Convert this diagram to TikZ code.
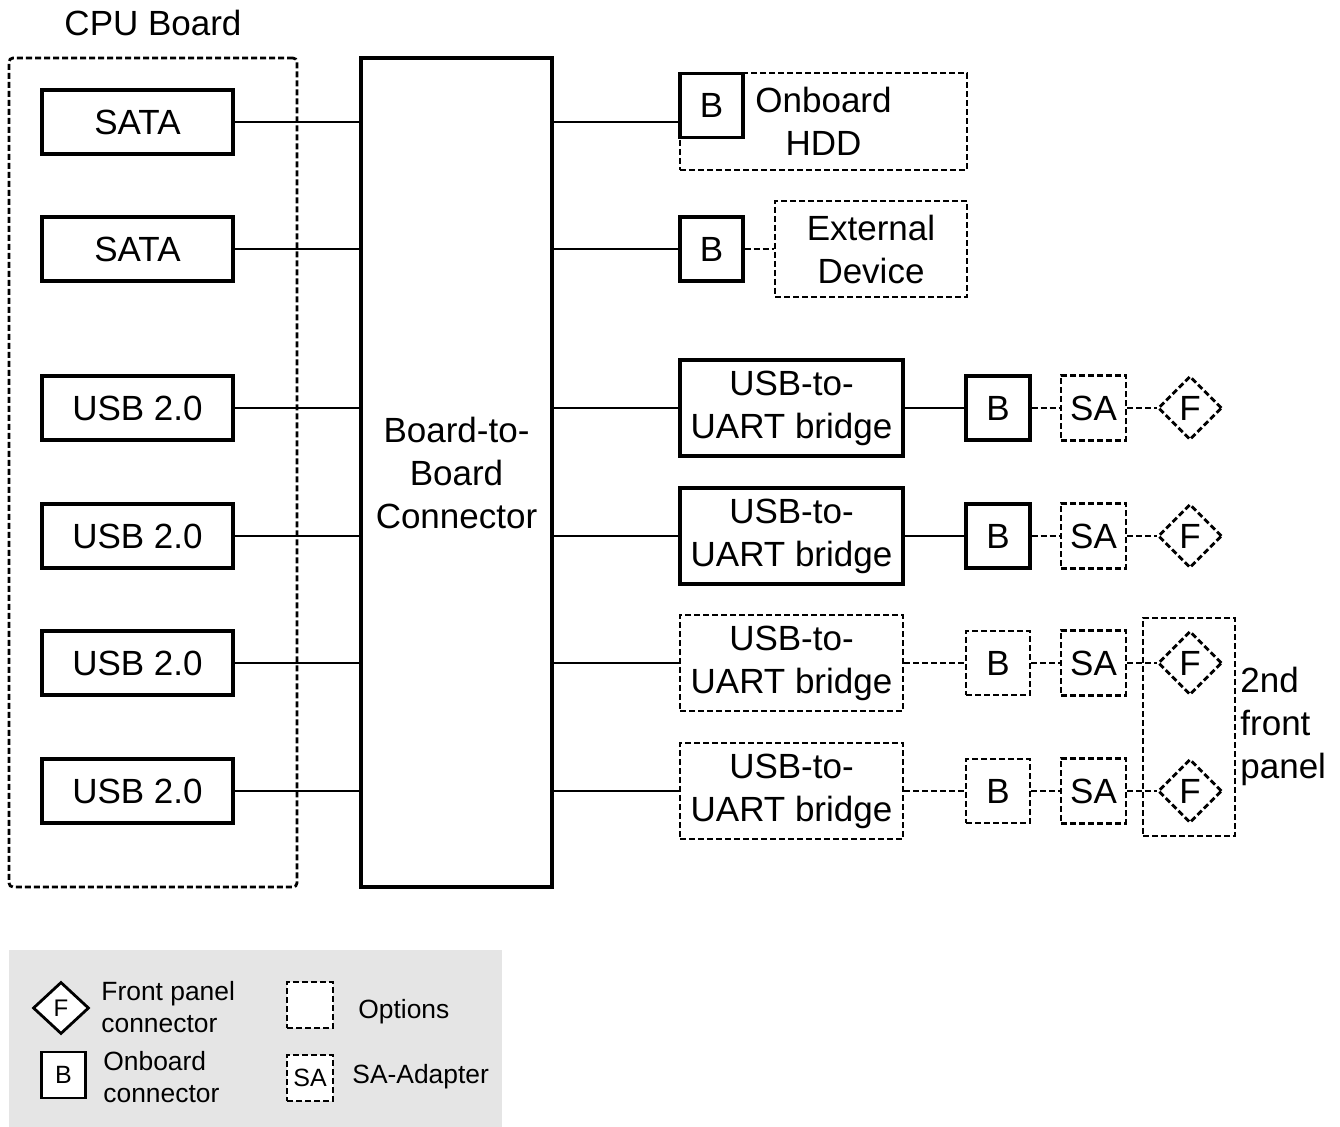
\documentclass[tikz,border=0pt]{standalone}
\usepackage{fontspec}
\setmainfont{Liberation Sans}
\usetikzlibrary{shapes.geometric}

\begin{document}
\begin{tikzpicture}[x=0.5pt,y=-0.5pt,
  blk/.style={draw,line width=1.6pt,inner sep=0pt,align=center,font=\fontsize{17.5}{21.5}\selectfont},
  opt/.style={blk,line width=1.4pt,dash pattern=on 3pt off 1.5pt},
  fcon/.style={opt,diamond,minimum width=32pt,minimum height=32pt},
  wire/.style={line width=1.4pt},
  owire/.style={wire,dash pattern=on 3pt off 1.5pt},
  leg/.style={font=\fontsize{13.2}{16}\selectfont,align=left,anchor=west,inner sep=0pt}]
\useasboundingbox (0,0) rectangle (1340,1127);

% CPU board and board-to-board connector
\node[opt,rounded corners=2pt,minimum width=144pt,minimum height=414.5pt](cpu) at (153,472.5){};
\node[font=\fontsize{17.5}{21.5}\selectfont](cpulbl) at (153,23){CPU Board};
\node[blk,minimum width=95.5pt,minimum height=32pt](sata1) at (137.5,122){SATA};
\node[blk,minimum width=95.5pt,minimum height=32pt](sata2) at (137.5,249){SATA};
\node[blk,minimum width=95.5pt,minimum height=32pt](usb1) at (137.5,408){USB 2.0};
\node[blk,minimum width=95.5pt,minimum height=32pt](usb2) at (137.5,536){USB 2.0};
\node[blk,minimum width=95.5pt,minimum height=32pt](usb3) at (137.5,663){USB 2.0};
\node[blk,minimum width=95.5pt,minimum height=32pt](usb4) at (137.5,791){USB 2.0};
\node[blk,minimum width=95.5pt,minimum height=414.5pt](b2b) at (456.5,472.5){Board-to-\\Board\\Connector};

% right side
\node[opt,minimum width=143.5pt,minimum height=48.5pt](hdd) at (823.5,121.5){Onboard\\HDD};
\node[blk,minimum width=31.5pt,minimum height=32pt](hddb) at (711.5,105.5){B};
\node[blk,minimum width=31.5pt,minimum height=32pt](extb) at (711.5,249){B};
\node[opt,minimum width=96pt,minimum height=48pt](ext) at (871,249){External\\Device};

\node[blk,minimum width=111.5pt,minimum height=48pt](br1) at (791.5,408){USB-to-\\UART bridge};
\node[blk,minimum width=111.5pt,minimum height=48pt](br2) at (791.5,536){USB-to-\\UART bridge};
\node[opt,minimum width=111.5pt,minimum height=48pt](br3) at (791.5,663){USB-to-\\UART bridge};
\node[opt,minimum width=111.5pt,minimum height=48pt](br4) at (791.5,791){USB-to-\\UART bridge};

\node[blk,minimum width=32pt,minimum height=32pt](b1) at (998,408){B};
\node[blk,minimum width=32pt,minimum height=32pt](b2) at (998,536){B};
\node[opt,minimum width=32pt,minimum height=32pt](b3) at (998,663){B};
\node[opt,minimum width=32pt,minimum height=32pt](b4) at (998,791){B};

\node[opt,minimum width=32.5pt,minimum height=32.5pt](sa1) at (1093.5,408){SA};
\node[opt,minimum width=32.5pt,minimum height=32.5pt](sa2) at (1093.5,536){SA};
\node[opt,minimum width=32.5pt,minimum height=32.5pt](sa3) at (1093.5,663){SA};
\node[opt,minimum width=32.5pt,minimum height=32.5pt](sa4) at (1093.5,791){SA};

\node[fcon](f1) at (1190,408){F};
\node[fcon](f2) at (1190,536){F};
\node[fcon](f3) at (1190,663){F};
\node[fcon](f4) at (1190,791){F};

\node[opt,minimum width=46pt,minimum height=109pt](panel) at (1189,727){};
\node[font=\fontsize{17.5}{21.5}\selectfont,align=left,anchor=west,inner sep=0pt](paneltxt) at (1240,726){2nd\\front\\panel};

% connectors
\draw[wire](sata1) -- (sata1 -| b2b.west);
\draw[wire](sata2) -- (sata2 -| b2b.west);
\draw[wire](usb1) -- (usb1 -| b2b.west);
\draw[wire](usb2) -- (usb2 -| b2b.west);
\draw[wire](usb3) -- (usb3 -| b2b.west);
\draw[wire](usb4) -- (usb4 -| b2b.west);
\draw[wire](sata1 -| b2b.east) -- (sata1 -| hddb.west);
\draw[wire](sata2 -| b2b.east) -- (extb);
\draw[owire](extb) -- (ext);
\draw[wire](usb1 -| b2b.east) -- (br1);
\draw[wire](usb2 -| b2b.east) -- (br2);
\draw[wire](usb3 -| b2b.east) -- (br3);
\draw[wire](usb4 -| b2b.east) -- (br4);
\draw[wire](br1) -- (b1);
\draw[wire](br2) -- (b2);
\draw[owire](br3) -- (b3);
\draw[owire](br4) -- (b4);
\draw[owire](b1) -- (sa1);
\draw[owire](b2) -- (sa2);
\draw[owire](b3) -- (sa3);
\draw[owire](b4) -- (sa4);
\draw[owire](sa1) -- (f1);
\draw[owire](sa2) -- (f2);
\draw[owire](sa3) -- (f3);
\draw[owire](sa4) -- (f4);

% legend
\node[fill=black!10,minimum width=246.5pt,minimum height=88.5pt,inner sep=0pt](legend) at (255.5,1038.5){};
\node[draw,diamond,line width=1.4pt,inner sep=0pt,minimum width=28pt,minimum height=26pt,fill=white,font=\fontsize{12}{12}\selectfont](legf) at (61,1008){F};
\node[leg](legftxt) at (101,1007){Front panel\\connector};
\node[blk,fill=white,line width=1.4pt,minimum width=22pt,minimum height=23pt,font=\fontsize{12.5}{12.5}\selectfont](legb) at (63.5,1075){B};
\node[leg](legbtxt) at (103,1077){Onboard\\connector};
\node[opt,fill=white,line width=1.3pt,minimum width=23pt,minimum height=23pt](legopt) at (310,1005){};
\node[leg](legopttxt) at (358,1012){Options};
\node[opt,fill=white,line width=1.3pt,minimum width=23pt,minimum height=23pt,font=\fontsize{12.5}{12.5}\selectfont](legsa) at (310,1078){SA};
\node[leg](legsatxt) at (352,1077){SA-Adapter};
\end{tikzpicture}
\end{document}
